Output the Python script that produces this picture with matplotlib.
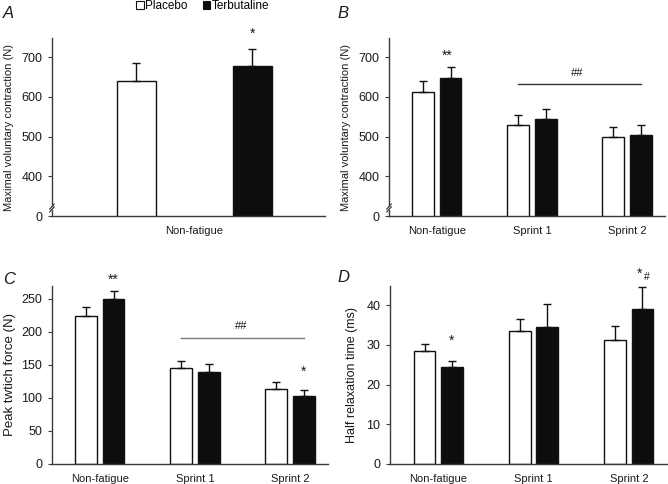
import matplotlib
matplotlib.use("Agg")
import matplotlib.pyplot as plt
import numpy as np
from matplotlib.patches import Rectangle
from matplotlib.lines import Line2D

plt.rcParams['font.family'] = ['Liberation Sans', 'DejaVu Sans']

groups = ['Non-fatigue', 'Sprint 1', 'Sprint 2']
series = ['Placebo', 'Terbutaline']

# Panel A (MVC, non-fatigue only)
a_placebo = [639]
a_placebo_err = [47]
a_terb = [677]
a_terb_err = [44]

# Panel B (MVC)
b_placebo = [612, 528, 500]
b_placebo_err = [27, 26, 24]
b_terb = [648, 543, 505]
b_terb_err = [27, 26, 24]

# Panel C (peak twitch force)
c_placebo = [224, 145, 113.5]
c_placebo_err = [13, 10.5, 10]
c_terb = [249, 139, 102.5]
c_terb_err = [12, 11.5, 9]

# Panel D (half relaxation time)
d_placebo = [28.5, 33.5, 31.2]
d_placebo_err = [1.8, 3.1, 3.5]
d_terb = [24.5, 34.4, 39.1]
d_terb_err = [1.5, 5.8, 5.5]

mvc_ticks = [300, 400, 500, 600, 700]
mvc_ticklabels = ['0', '400', '500', '600', '700']

W, H = 668, 484
fig = plt.figure(figsize=(W / 100, H / 100), dpi=100)

def px_axes(l, t, r, b):
    return fig.add_axes([l / W, 1 - b / H, (r - l) / W, (b - t) / H])

spine_col = '#3a3a3a'
txt_col = '#1a1a1a'

def style(ax):
    for s in ['top', 'right']:
        ax.spines[s].set_visible(False)
    for s in ['left', 'bottom']:
        ax.spines[s].set_color(spine_col)
        ax.spines[s].set_linewidth(1.0)
    ax.tick_params(axis='y', direction='out', length=3, width=0.8, color=spine_col,
                   labelsize=9, labelcolor=txt_col, pad=4)
    ax.tick_params(axis='x', length=0, labelsize=8, labelcolor=txt_col, pad=7)

def bars(ax, x, vals, errs, color, width):
    ax.bar(x, vals, width=width, color=color, edgecolor='#111111', linewidth=1.0, zorder=2)
    ax.errorbar(x, vals, yerr=[np.zeros(len(vals)), errs], fmt='none', ecolor='#111111',
                elinewidth=1.0, capsize=2.6, capthick=1.0, zorder=3)

def star(ax, x, y, s, size=10):
    ax.annotate(s, xy=(x, y), xytext=(0, -5.5), textcoords='offset points', ha='center',
                va='baseline', fontsize=size, color=txt_col, annotation_clip=False)

def brk(ax):
    # broken-axis mark near bottom of y axis
    t = ax.transAxes
    y0 = 0.045
    ax.add_patch(Rectangle((-0.01, y0 - 0.008), 0.02, 0.016, transform=t, color='white',
                           zorder=5, clip_on=False))
    for dy in (-0.008, 0.008):
        ax.add_line(Line2D([-0.008, 0.008], [y0 + dy - 0.014, y0 + dy + 0.014], transform=t,
                           color=spine_col, lw=0.9, clip_on=False, zorder=6))

off = 0.143
bw = 0.23
xg = np.arange(len(groups))

# ---------- A ----------
axA = px_axes(52, 38, 325, 216)
style(axA)
bwA = 0.134
bars(axA, [-0.2], a_placebo, a_placebo_err, 'white', bwA)
bars(axA, [0.2], a_terb, a_terb_err, '#0d0d0d', bwA)
axA.set_xlim(-0.49, 0.45)
axA.set_ylim(300, 748)
axA.set_yticks(mvc_ticks)
axA.set_yticklabels(mvc_ticklabels)
axA.set_xticks([0])
axA.set_xticklabels([groups[0]])
axA.set_ylabel('Maximal voluntary contraction (N)', fontsize=8, color=txt_col, labelpad=5)
star(axA, 0.2, 768, '*')
brk(axA)

# ---------- B ----------
axB = px_axes(389, 38, 665, 216)
style(axB)
bars(axB, xg - off, b_placebo, b_placebo_err, 'white', bw)
bars(axB, xg + off, b_terb, b_terb_err, '#0d0d0d', bw)
axB.set_xlim(-0.505, 2.40)
axB.set_ylim(300, 748)
axB.set_yticks(mvc_ticks)
axB.set_yticklabels(mvc_ticklabels)
axB.set_xticks(xg)
axB.set_xticklabels(groups)
axB.set_ylabel('Maximal voluntary contraction (N)', fontsize=8, color=txt_col, labelpad=5)
axB.plot([1 - off, 2 + off], [633, 633], color='#333333', lw=1.0)
axB.text(1.48, 660, '##', ha='center', va='center', fontsize=8, color=txt_col)
star(axB, 0.11, 713, '**')
brk(axB)

# ---------- C ----------
axC = px_axes(52, 286, 328, 464)
style(axC)
bars(axC, xg - off, c_placebo, c_placebo_err, 'white', bw)
bars(axC, xg + off, c_terb, c_terb_err, '#0d0d0d', bw)
axC.set_xlim(-0.505, 2.40)
axC.set_ylim(0, 269)
axC.set_yticks([0, 50, 100, 150, 200, 250])
axC.set_xticks(xg)
axC.set_xticklabels(groups)
axC.set_ylabel('Peak twtich force (N)', fontsize=9.5, color=txt_col, labelpad=4)
axC.plot([1 - off, 2 + off], [190.5, 190.5], color='#777777', lw=1.0)
axC.text(1.49, 209, '##', ha='center', va='center', fontsize=8, color=txt_col)
star(axC, 0.14, 284, '**')
star(axC, 2 + off, 144.5, '*')

# ---------- D ----------
axD = px_axes(390, 286, 667, 464)
style(axD)
bars(axD, xg - off, d_placebo, d_placebo_err, 'white', bw)
bars(axD, xg + off, d_terb, d_terb_err, '#0d0d0d', bw)
axD.set_xlim(-0.505, 2.40)
axD.set_ylim(0, 44.8)
axD.set_yticks([0, 10, 20, 30, 40])
axD.set_xticks(xg)
axD.set_xticklabels(groups)
axD.set_ylabel('Half relaxation time (ms)', fontsize=9, color=txt_col, labelpad=6)
star(axD, off, 31.9, '*')
star(axD, 2 + off - 0.03, 48.8, '*')
axD.text(2 + off + 0.05, 47.1, '#', ha='center', va='center', fontsize=7.5, color=txt_col,
         clip_on=False)

# panel letters
for lx, ly, s in [(3, 13, 'A'), (337, 13, 'B'), (3, 279, 'C'), (337, 277, 'D')]:
    fig.text(lx / W, 1 - ly / H, s, fontsize=12, style='italic', ha='left', va='center',
             color=txt_col)

# legend
handles = [Rectangle((0, 0), 1, 1, facecolor='white', edgecolor='#111111', lw=0.8),
           Rectangle((0, 0), 1, 1, facecolor='#0d0d0d', edgecolor='#111111', lw=0.8)]
fig.legend(handles, series, loc='center', bbox_to_anchor=(203 / W, 1 - 6 / H), ncol=2,
           frameon=False, fontsize=8.5, handlelength=0.6, handleheight=0.6,
           handletextpad=0.15, columnspacing=1.3, borderpad=0, borderaxespad=0)

fig.savefig('out.png', dpi=100)
